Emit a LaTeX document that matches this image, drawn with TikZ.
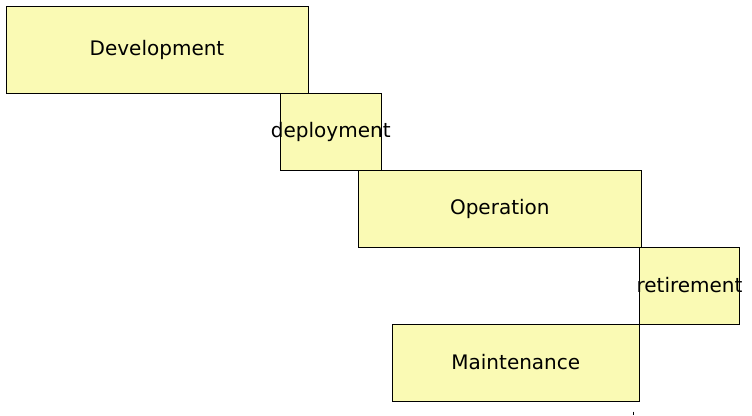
\documentclass[tikz,border=0pt]{standalone}
\usepackage{fontspec}
\setmainfont{DejaVu Sans}
\definecolor{boxfill}{RGB}{250,250,180}
\tikzset{
  phase/.style={draw=black, fill=boxfill, line width=1pt, inner sep=0pt, font=\fontsize{20}{24}\selectfont},
}
\newcommand{\lbl}[1]{\makebox[0pt]{\raisebox{1.5pt}{#1}}}
\begin{document}
\begin{tikzpicture}[x=1pt,y=-1pt]
\useasboundingbox (0,0) rectangle (752,415);
\node[phase, minimum width=302pt, minimum height=87pt] (dev) at (157,49.5) {\lbl{Development}};
\node[phase, minimum width=101pt, minimum height=77pt] (dep) at (330.8,131.6) {\lbl{deployment}};
\node[phase, minimum width=283pt, minimum height=77pt] (op) at (499.8,208.5) {\lbl{Operation}};
\node[phase, minimum width=100pt, minimum height=77pt] (ret) at (689.5,285.8) {\lbl{retirement}};
\node[phase, minimum width=247pt, minimum height=77pt] (mnt) at (515.8,362.6) {\lbl{Maintenance}};
\coordinate (t1) at (633.3,411.5);
\coordinate (t2) at (633.3,415);
\draw[line width=1pt] (t1) -- (t2);
\end{tikzpicture}
\end{document}
